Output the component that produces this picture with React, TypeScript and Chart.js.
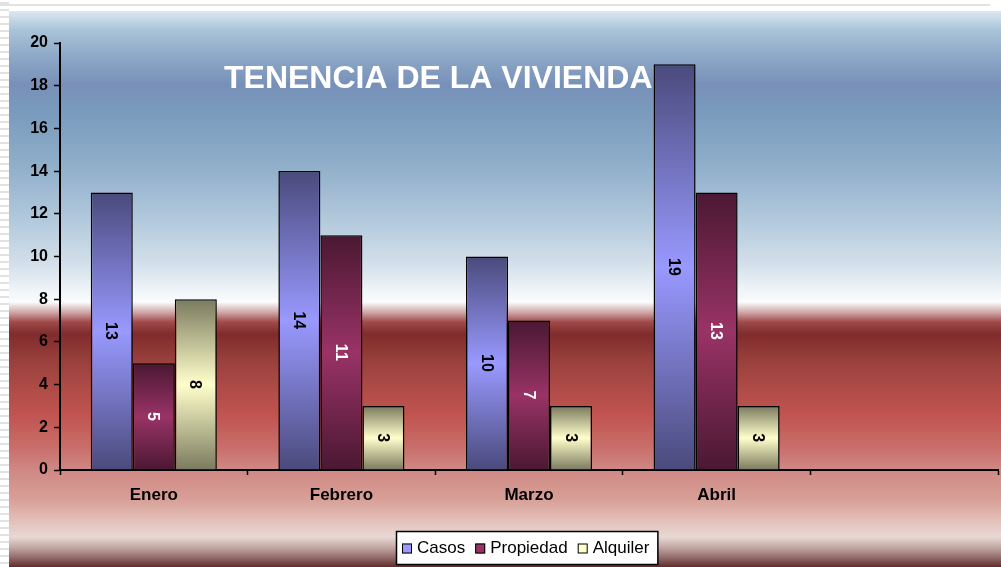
import React, { useEffect, useRef } from "react";
import { Chart, registerables } from "chart.js";

Chart.register(...registerables);

const categories = ["Enero", "Febrero", "Marzo", "Abril", ""];
const casos = [13, 14, 10, 19, null];
const propiedad = [5, 11, 7, 13, null];
const alquiler = [8, 3, 3, 3, null];
const seriesNames = ["Casos", "Propiedad", "Alquiler"];
const yMin = 0;
const yMax = 20;
const yStep = 2;
const titleText = "TENENCIA DE LA VIVIENDA";

const midColors = ["#9999ff", "#993366", "#ffffcc"];
const edgeColors = ["#4a4a7c", "#4a1832", "#7a7a5e"];
const labelColors = ["#000000", "#ffffff", "#000000"];

const FONT = '"Liberation Sans", Arial, sans-serif';

// background gradient stops: [pageY, color]
const bgStops: [number, string][] = [
  [11, "#dce8f2"],
  [30, "#a9c3d8"],
  [60, "#8aa5c5"],
  [85, "#7890b8"],
  [110, "#7a9abd"],
  [160, "#8cacc8"],
  [220, "#b2c9dc"],
  [265, "#d4e0ea"],
  [295, "#f4f8fb"],
  [302, "#fbfcfd"],
  [312, "#d0aaaa"],
  [322, "#a04a4a"],
  [334, "#802c2c"],
  [360, "#98403c"],
  [390, "#b04c48"],
  [415, "#c05450"],
  [445, "#c86c68"],
  [470, "#d08884"],
  [500, "#d8a098"],
  [520, "#e2c0b8"],
  [537, "#e8d8d4"],
  [548, "#c0a4a0"],
  [558, "#906868"],
  [567, "#602c2c"],
];

const backgroundPlugin = {
  id: "bgPlugin",
  beforeDraw(chart: any) {
    const ctx = chart.ctx;
    const W = chart.width;
    const H = chart.height;
    ctx.save();
    ctx.fillStyle = "#ffffff";
    ctx.fillRect(0, 0, W, H);
    // left striped strip
    ctx.fillStyle = "#e2e2e2";
    for (let y = 2; y < H; y += 7) {
      ctx.fillRect(0, y, 9, 2);
    }
    // top line
    ctx.fillRect(0, 4, 990, 2);
    const top = 11;
    const g = ctx.createLinearGradient(0, top, 0, H);
    bgStops.forEach(([y, c]) => {
      g.addColorStop(Math.min(1, Math.max(0, (y - top) / (H - top))), c);
    });
    ctx.fillStyle = g;
    ctx.fillRect(9, top, W - 9, H - top);
    ctx.restore();
  },
  beforeDatasetsDraw(chart: any) {
    const ctx = chart.ctx;
    ctx.save();
    ctx.font = `bold 32px ${FONT}`;
    ctx.fillStyle = "#ffffff";
    ctx.textBaseline = "middle";
    ctx.textAlign = "left";
    ctx.fillText(titleText, 224, 79);
    ctx.restore();
  },
  afterDatasetsDraw(chart: any) {
    const ctx = chart.ctx;
    ctx.save();
    ctx.font = `bold 16px ${FONT}`;
    ctx.textAlign = "center";
    ctx.textBaseline = "middle";
    chart.data.datasets.forEach((ds: any, di: number) => {
      const meta = chart.getDatasetMeta(di);
      meta.data.forEach((bar: any, i: number) => {
        const v = ds.data[i];
        if (v == null) return;
        const cy = (bar.y + bar.base) / 2;
        ctx.save();
        ctx.translate(bar.x, cy);
        ctx.rotate(Math.PI / 2);
        ctx.fillStyle = labelColors[di];
        ctx.fillText(String(v), 0, 1);
        ctx.restore();
      });
    });
    ctx.restore();
  },
  afterDraw(chart: any) {
    const ctx = chart.ctx;
    ctx.save();
    ctx.font = `17px ${FONT}`;
    const sq = 10;
    const gapSqText = 5;
    const gapItems = 10;
    const padL = 6;
    const padR = 8;
    const widths = seriesNames.map((n) => ctx.measureText(n).width);
    let total = padL + padR;
    widths.forEach((w, i) => {
      total += sq + gapSqText + w + (i < widths.length - 1 ? gapItems : 0);
    });
    const cx = 527;
    const bx = Math.round(cx - total / 2);
    const by = 531;
    const bh = 33;
    ctx.fillStyle = "#ffffff";
    ctx.fillRect(bx, by, total, bh);
    ctx.strokeStyle = "#000000";
    ctx.lineWidth = 1.5;
    ctx.strokeRect(bx + 0.5, by + 0.5, total, bh);
    let x = bx + padL;
    const cyL = by + bh / 2 + 1;
    seriesNames.forEach((n, i) => {
      ctx.fillStyle = midColors[i];
      ctx.fillRect(x, cyL - sq / 2, sq, sq);
      ctx.lineWidth = 1;
      ctx.strokeStyle = "#000000";
      ctx.strokeRect(x + 0.5, cyL - sq / 2 + 0.5, sq - 1, sq - 1);
      x += sq + gapSqText;
      ctx.fillStyle = "#000000";
      ctx.textBaseline = "middle";
      ctx.textAlign = "left";
      ctx.fillText(n, x, cyL);
      x += widths[i] + gapItems;
    });
    ctx.restore();
  },
};

function makeGradient(di: number) {
  return (c: any) => {
    const chart = c.chart;
    const { chartArea, scales } = chart;
    if (!chartArea || !scales || !scales.y || c.type !== "data") return midColors[di];
    const v = c.raw;
    if (v == null) return midColors[di];
    const top = scales.y.getPixelForValue(v);
    const base = scales.y.getPixelForValue(0);
    if (!isFinite(top) || !isFinite(base) || top === base) return midColors[di];
    const g = chart.ctx.createLinearGradient(0, top, 0, base);
    g.addColorStop(0, edgeColors[di]);
    g.addColorStop(0.5, midColors[di]);
    g.addColorStop(1, edgeColors[di]);
    return g;
  };
}

export default function App() {
  const canvasRef = useRef<HTMLCanvasElement | null>(null);

  useEffect(() => {
    if (!canvasRef.current) return;
    const seriesData = [casos, propiedad, alquiler];
    const chart = new Chart(canvasRef.current, {
      type: "bar",
      data: {
        labels: categories,
        datasets: seriesNames.map((name, di) => ({
          label: name,
          data: seriesData[di] as any,
          backgroundColor: makeGradient(di) as any,
          borderColor: "#000000",
          borderWidth: 1.5,
          categoryPercentage: 0.672,
          barPercentage: 1,
        })),
      },
      options: {
        responsive: false,
        animation: false,
        devicePixelRatio: 1,
        layout: { padding: { top: 43, right: 3, left: 0, bottom: 0 } },
        plugins: {
          legend: { display: false },
          title: { display: false },
          tooltip: { enabled: false },
        },
        scales: {
          x: {
            afterFit: (scale: any) => {
              scale.height = 97;
            },
            border: { display: true, color: "#000000", width: 2 },
            grid: {
              display: true,
              drawOnChartArea: false,
              drawTicks: true,
              tickLength: 5,
              color: "#000000",
              tickWidth: 1.5,
              offset: true,
            },
            ticks: {
              color: "#000000",
              font: { family: FONT, size: 17, weight: "bold" },
              padding: 10,
              maxRotation: 0,
              autoSkip: false,
            },
          },
          y: {
            min: yMin,
            max: yMax,
            afterFit: (scale: any) => {
              scale.width = 60;
            },
            border: { display: true, color: "#000000", width: 2 },
            grid: {
              display: true,
              drawOnChartArea: false,
              drawTicks: true,
              tickLength: 6,
              color: "#000000",
              tickWidth: 1.5,
            },
            ticks: {
              stepSize: yStep,
              color: "#000000",
              font: { family: FONT, size: 16, weight: "bold" },
              padding: 6,
            },
          },
        },
      },
      plugins: [backgroundPlugin],
    });
    return () => chart.destroy();
  }, []);

  return (
    <div style={{ position: "fixed", left: 0, top: 0, width: 1001, height: 567 }}>
      <canvas ref={canvasRef} width={1001} height={567} style={{ display: "block", width: 1001, height: 567 }} />
    </div>
  );
}
